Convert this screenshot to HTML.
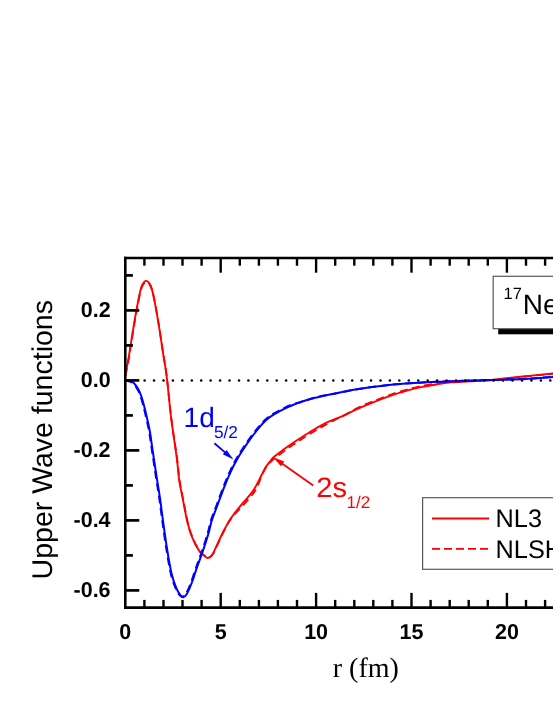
<!DOCTYPE html>
<html><head><meta charset="utf-8"><title>Upper Wave functions</title>
<style>
html,body{margin:0;padding:0;background:#fff;}
body{width:553px;height:715px;overflow:hidden;font-family:"Liberation Sans",sans-serif;}
svg{display:block;will-change:transform;}
text{text-rendering:geometricPrecision;}
</style></head><body>
<svg width="553" height="715" viewBox="0 0 553 715">
<rect width="553" height="715" fill="#fff"/>
<g fill="none" stroke-linejoin="round" stroke-linecap="butt">
<path d="M125.3 375.0 C125.8 372.5 127.2 365.5 128.2 360.0 C129.2 354.5 130.0 349.1 131.1 342.2 C132.2 335.3 133.6 326.2 134.9 318.7 C136.2 311.2 137.8 302.6 138.9 297.2 C140.0 291.8 140.7 288.8 141.6 286.2 C142.5 283.6 143.7 282.6 144.5 281.7 C145.3 280.8 145.7 280.7 146.4 280.9 C147.2 281.1 148.1 281.4 149.0 282.7 C149.9 283.9 150.7 285.5 151.6 288.4 C152.5 291.3 153.3 294.4 154.4 300.1 C155.5 305.8 157.0 314.4 158.4 322.7 C159.8 331.0 161.2 341.0 162.6 350.1 C164.0 359.2 165.4 366.0 166.8 377.5 C168.2 389.0 169.6 405.7 171.3 419.2 C173.0 432.7 175.5 448.2 176.8 458.3 C178.1 468.4 178.2 473.2 179.2 480.0 C180.2 486.8 181.4 491.8 182.8 499.0 C184.2 506.2 186.0 516.5 187.6 523.0 C189.2 529.5 190.6 533.6 192.5 538.2 C194.4 542.9 197.2 548.0 199.2 550.9 C201.2 553.8 203.2 554.7 204.6 555.9 C206.0 557.1 206.5 558.2 207.8 558.0 C209.1 557.8 210.6 556.9 212.2 554.7 C213.8 552.5 215.3 548.5 217.2 544.6 C219.1 540.7 221.2 535.6 223.5 531.2 C225.8 526.8 228.1 522.4 231.1 518.0 C234.1 513.6 237.9 508.9 241.3 504.8 C244.7 500.7 248.9 496.4 251.4 493.2 C253.9 490.0 254.7 488.3 256.3 485.4 C257.9 482.5 259.7 478.7 261.2 475.8 C262.7 472.9 263.8 470.2 265.2 467.9 C266.6 465.6 268.1 464.0 269.5 462.2 C270.9 460.4 271.5 459.1 273.8 457.0 C276.1 454.9 279.8 452.3 283.5 449.6 C287.2 446.9 292.0 443.6 296.2 440.8 C300.4 438.0 304.2 435.5 308.9 432.7 C313.5 429.9 318.9 426.4 324.1 423.8 C329.3 421.2 336.5 418.7 340.0 417.2 C343.5 415.7 341.8 416.4 345.2 414.8 C348.6 413.2 355.3 409.8 360.4 407.6 C365.5 405.4 370.5 403.4 375.6 401.4 C380.7 399.4 385.7 397.5 390.8 395.7 C395.9 393.9 400.9 392.2 406.0 390.8 C411.1 389.4 416.1 388.2 421.1 387.1 C426.2 386.1 431.2 385.3 436.3 384.5 C441.4 383.7 445.9 382.8 451.5 382.3 C457.1 381.8 463.7 381.7 470.0 381.3 C476.3 380.9 480.0 381.0 489.2 380.1 C498.4 379.2 514.7 377.3 525.3 376.2 C535.9 375.1 547.2 374.1 553.0 373.5 C558.8 372.9 558.8 372.9 560.0 372.8" stroke="#ff0000" stroke-width="1.9"/>
<path d="M125.5 375.9 C126.0 373.4 127.4 366.4 128.4 360.9 C129.4 355.4 130.2 350.0 131.3 343.1 C132.4 336.2 133.8 327.1 135.1 319.6 C136.4 312.1 138.0 303.5 139.1 298.1 C140.2 292.7 140.9 289.7 141.8 287.1 C142.7 284.5 143.9 283.5 144.7 282.6 C145.5 281.7 145.8 281.6 146.6 281.8 C147.3 282.0 148.3 282.3 149.2 283.6 C150.1 284.8 150.9 286.4 151.8 289.3 C152.7 292.2 153.5 295.3 154.6 301.0 C155.7 306.7 157.2 315.3 158.6 323.6 C160.0 331.9 161.4 341.9 162.8 351.0 C164.2 360.1 165.6 366.9 167.0 378.4 C168.4 389.9 169.8 406.8 171.5 420.1 C173.2 433.4 175.8 448.4 177.1 458.4 C178.4 468.4 178.5 473.3 179.5 480.1 C180.5 486.9 181.7 491.9 183.1 499.1 C184.5 506.3 186.3 516.6 187.9 523.1 C189.5 529.6 190.9 533.7 192.8 538.3 C194.7 543.0 197.5 548.0 199.5 551.0 C201.5 554.0 203.5 554.8 204.9 556.0 C206.3 557.2 206.8 558.3 208.1 558.1 C209.4 557.9 210.9 557.0 212.5 554.8 C214.1 552.6 215.6 548.6 217.5 544.7 C219.4 540.8 221.5 535.7 223.8 531.3 C226.1 526.9 228.3 522.3 231.4 518.1 C234.5 513.9 238.8 509.9 242.3 506.0 C245.8 502.1 249.9 497.6 252.4 494.4 C254.9 491.2 255.8 489.6 257.3 486.6 C258.8 483.5 260.1 479.2 261.5 476.1 C262.9 473.0 264.1 470.5 265.5 468.2 C266.9 465.9 268.3 464.1 269.8 462.5 C271.3 460.9 272.2 460.2 274.6 458.3 C277.0 456.4 280.6 453.6 284.3 450.9 C288.0 448.2 292.8 444.9 297.0 442.1 C301.2 439.3 305.0 436.8 309.7 434.0 C314.4 431.2 319.9 427.9 324.9 425.1 C330.0 422.3 336.6 418.9 340.0 417.2 C343.4 415.5 341.8 416.6 345.2 414.8 C348.6 413.0 355.3 409.0 360.4 406.6 C365.5 404.2 370.5 402.4 375.6 400.4 C380.7 398.4 385.7 396.5 390.8 394.7 C395.9 392.9 400.9 391.2 406.0 389.8 C411.1 388.4 416.1 387.2 421.1 386.1 C426.2 385.1 431.2 384.3 436.3 383.5 C441.4 382.7 445.9 381.8 451.5 381.3 C457.1 380.8 463.7 380.4 470.0 380.3 C476.3 380.2 480.0 381.0 489.2 380.4 C498.4 379.8 514.7 377.6 525.3 376.5 C535.9 375.4 547.2 374.4 553.0 373.8 C558.8 373.2 558.8 373.2 560.0 373.1" stroke="#ff0000" stroke-width="1.9" stroke-dasharray="8 4.5"/>
<path d="M125.5 380.4 C126.0 380.4 127.3 380.4 128.5 380.7 C129.7 381.0 131.4 381.4 132.7 382.2 C133.9 383.0 134.9 384.2 136.0 385.7 C137.1 387.2 138.2 388.8 139.3 391.2 C140.4 393.6 141.5 396.6 142.5 400.0 C143.5 403.4 144.3 406.5 145.5 411.5 C146.7 416.5 148.5 424.5 149.6 430.0 C150.7 435.5 150.7 437.3 151.8 444.6 C152.9 451.9 154.8 465.2 156.2 474.0 C157.5 482.8 158.8 489.8 159.9 497.5 C161.0 505.2 161.8 511.9 162.9 520.0 C164.0 528.0 165.2 536.8 166.6 545.8 C168.0 554.8 169.9 566.5 171.6 573.7 C173.3 580.9 175.2 585.3 176.7 588.9 C178.2 592.5 179.4 593.8 180.5 595.2 C181.6 596.6 181.9 597.4 183.0 597.2 C184.1 597.0 185.3 596.4 186.8 593.9 C188.3 591.4 190.2 586.9 191.9 582.5 C193.6 578.1 195.2 572.3 197.0 567.3 C198.8 562.2 200.6 557.7 202.5 552.2 C204.4 546.7 206.6 539.7 208.2 534.4 C209.8 529.1 210.4 525.0 211.8 520.4 C213.2 515.8 215.0 511.8 216.8 507.0 C218.6 502.2 220.5 496.7 222.4 491.8 C224.3 486.9 226.1 482.2 228.0 477.8 C229.9 473.4 231.9 469.1 233.6 465.7 C235.3 462.3 236.9 459.7 238.3 457.3 C239.7 454.9 240.2 454.1 242.0 451.3 C243.8 448.6 246.3 444.5 249.0 440.8 C251.7 437.1 255.1 432.5 258.1 428.9 C261.1 425.3 264.1 421.9 267.1 419.3 C270.1 416.7 273.2 414.9 276.2 413.1 C279.2 411.3 282.4 409.7 285.2 408.3 C288.0 406.9 290.4 406.0 292.9 405.0 C295.4 404.0 297.7 403.1 300.1 402.3 C302.5 401.5 304.8 400.8 307.3 400.0 C309.8 399.2 311.8 398.6 315.0 397.8 C318.2 397.0 322.4 396.1 326.6 395.2 C330.8 394.3 335.2 393.5 340.0 392.6 C344.8 391.7 348.5 390.7 355.3 389.6 C362.1 388.5 372.2 387.0 380.6 386.0 C389.1 385.0 397.6 384.2 406.0 383.6 C414.4 383.0 422.9 382.5 431.3 382.1 C439.7 381.7 447.0 381.5 456.6 381.2 C466.2 380.9 477.6 380.5 489.0 380.1 C500.4 379.7 514.3 379.4 525.0 378.9 C535.7 378.4 547.2 377.4 553.0 377.0 C558.8 376.6 558.8 376.6 560.0 376.5" stroke="#0000ff" stroke-width="2.0"/>
<path d="M124.8 380.6 C125.3 380.6 126.6 380.6 127.8 380.9 C129.0 381.2 130.8 381.6 132.0 382.4 C133.2 383.2 134.2 384.4 135.3 385.9 C136.4 387.4 137.5 389.0 138.6 391.4 C139.7 393.8 140.8 396.8 141.8 400.2 C142.8 403.6 143.6 406.7 144.8 411.7 C146.0 416.7 147.8 424.7 148.9 430.2 C150.0 435.7 150.0 437.5 151.1 444.8 C152.2 452.1 154.2 465.4 155.5 474.2 C156.8 483.0 158.1 490.0 159.2 497.7 C160.3 505.4 161.1 512.2 162.2 520.2 C163.3 528.2 164.5 537.0 165.9 546.0 C167.3 555.0 169.2 566.7 170.9 573.9 C172.6 581.1 174.5 585.5 176.0 589.1 C177.5 592.7 178.8 594.1 179.8 595.4 C180.9 596.7 181.2 597.0 182.3 596.7 C183.4 596.4 184.6 595.9 186.1 593.4 C187.6 590.9 189.5 586.4 191.2 582.0 C192.9 577.6 194.5 571.8 196.3 566.8 C198.1 561.8 199.9 557.2 201.8 551.7 C203.7 546.2 205.9 539.2 207.5 533.9 C209.1 528.6 209.7 524.5 211.1 519.9 C212.5 515.3 214.3 511.3 216.1 506.5 C217.9 501.7 219.8 496.2 221.7 491.3 C223.6 486.4 225.4 481.7 227.3 477.3 C229.2 472.9 231.2 468.6 232.9 465.2 C234.6 461.8 236.2 459.2 237.6 456.8 C239.0 454.4 239.5 453.6 241.3 450.8 C243.1 448.1 245.6 444.0 248.3 440.3 C251.0 436.6 254.4 432.0 257.4 428.4 C260.4 424.8 263.4 421.4 266.4 418.8 C269.4 416.2 272.5 414.4 275.5 412.6 C278.5 410.8 281.7 409.2 284.5 407.8 C287.3 406.4 289.6 405.4 292.2 404.5 C294.8 403.6 297.6 402.9 300.1 402.2 C302.6 401.4 304.8 400.6 307.3 399.9 C309.8 399.1 311.8 398.5 315.0 397.7 C318.2 396.9 322.4 395.9 326.6 395.1 C330.8 394.2 335.2 393.4 340.0 392.5 C344.8 391.5 348.5 390.6 355.3 389.5 C362.1 388.4 372.2 386.9 380.6 385.9 C389.1 384.9 397.6 384.1 406.0 383.5 C414.4 382.8 422.9 382.4 431.3 382.0 C439.7 381.6 447.0 381.4 456.6 381.1 C466.2 380.7 477.6 380.3 489.0 380.0 C500.4 379.6 514.3 379.3 525.0 378.8 C535.7 378.2 547.2 377.2 553.0 376.9 C558.8 376.5 558.8 376.4 560.0 376.4" stroke="#0000ff" stroke-width="2.0" stroke-dasharray="8 4.5"/>
</g>
<g fill="#000">
<circle cx="144.6" cy="380.5" r="1.25"/>
<circle cx="154.0" cy="380.5" r="1.25"/>
<circle cx="163.5" cy="380.5" r="1.25"/>
<circle cx="172.9" cy="380.5" r="1.25"/>
<circle cx="182.3" cy="380.5" r="1.25"/>
<circle cx="191.8" cy="380.5" r="1.25"/>
<circle cx="201.2" cy="380.5" r="1.25"/>
<circle cx="210.6" cy="380.5" r="1.25"/>
<circle cx="220.1" cy="380.5" r="1.25"/>
<circle cx="229.5" cy="380.5" r="1.25"/>
<circle cx="239.0" cy="380.5" r="1.25"/>
<circle cx="248.4" cy="380.5" r="1.25"/>
<circle cx="257.8" cy="380.5" r="1.25"/>
<circle cx="267.3" cy="380.5" r="1.25"/>
<circle cx="276.7" cy="380.5" r="1.25"/>
<circle cx="286.1" cy="380.5" r="1.25"/>
<circle cx="295.6" cy="380.5" r="1.25"/>
<circle cx="305.0" cy="380.5" r="1.25"/>
<circle cx="314.4" cy="380.5" r="1.25"/>
<circle cx="323.9" cy="380.5" r="1.25"/>
<circle cx="333.3" cy="380.5" r="1.25"/>
<circle cx="342.7" cy="380.5" r="1.25"/>
<circle cx="352.2" cy="380.5" r="1.25"/>
<circle cx="361.6" cy="380.5" r="1.25"/>
<circle cx="371.0" cy="380.5" r="1.25"/>
<circle cx="380.5" cy="380.5" r="1.25"/>
<circle cx="389.9" cy="380.5" r="1.25"/>
<circle cx="399.3" cy="380.5" r="1.25"/>
<circle cx="408.8" cy="380.5" r="1.25"/>
<circle cx="418.2" cy="380.5" r="1.25"/>
<circle cx="427.7" cy="380.5" r="1.25"/>
<circle cx="437.1" cy="380.5" r="1.25"/>
<circle cx="446.5" cy="380.5" r="1.25"/>
<circle cx="456.0" cy="380.5" r="1.25"/>
<circle cx="465.4" cy="380.5" r="1.25"/>
<circle cx="474.8" cy="380.5" r="1.25"/>
<circle cx="484.3" cy="380.5" r="1.25"/>
<circle cx="493.7" cy="380.5" r="1.25"/>
<circle cx="503.1" cy="380.5" r="1.25"/>
<circle cx="512.6" cy="380.5" r="1.25"/>
<circle cx="522.0" cy="380.5" r="1.25"/>
<circle cx="531.4" cy="380.5" r="1.25"/>
<circle cx="540.9" cy="380.5" r="1.25"/>
<circle cx="550.3" cy="380.5" r="1.25"/>
<circle cx="559.7" cy="380.5" r="1.25"/>
</g>
<g stroke="#000" fill="none">
<line x1="125.3" y1="256.7" x2="125.3" y2="608.9" stroke-width="2.6"/>
<line x1="124.0" y1="258.0" x2="560" y2="258.0" stroke-width="2.6"/>
<line x1="124.0" y1="607.6" x2="560" y2="607.6" stroke-width="2.6"/>
<line x1="144.4" y1="258.0" x2="144.4" y2="265.7" stroke-width="2.4"/>
<line x1="144.4" y1="607.6" x2="144.4" y2="599.9" stroke-width="2.4"/>
<line x1="163.5" y1="258.0" x2="163.5" y2="265.7" stroke-width="2.4"/>
<line x1="163.5" y1="607.6" x2="163.5" y2="599.9" stroke-width="2.4"/>
<line x1="182.5" y1="258.0" x2="182.5" y2="265.7" stroke-width="2.4"/>
<line x1="182.5" y1="607.6" x2="182.5" y2="599.9" stroke-width="2.4"/>
<line x1="201.6" y1="258.0" x2="201.6" y2="265.7" stroke-width="2.4"/>
<line x1="201.6" y1="607.6" x2="201.6" y2="599.9" stroke-width="2.4"/>
<line x1="220.7" y1="258.0" x2="220.7" y2="272.7" stroke-width="2.4"/>
<line x1="220.7" y1="607.6" x2="220.7" y2="592.9" stroke-width="2.4"/>
<line x1="239.8" y1="258.0" x2="239.8" y2="265.7" stroke-width="2.4"/>
<line x1="239.8" y1="607.6" x2="239.8" y2="599.9" stroke-width="2.4"/>
<line x1="258.9" y1="258.0" x2="258.9" y2="265.7" stroke-width="2.4"/>
<line x1="258.9" y1="607.6" x2="258.9" y2="599.9" stroke-width="2.4"/>
<line x1="277.9" y1="258.0" x2="277.9" y2="265.7" stroke-width="2.4"/>
<line x1="277.9" y1="607.6" x2="277.9" y2="599.9" stroke-width="2.4"/>
<line x1="297.0" y1="258.0" x2="297.0" y2="265.7" stroke-width="2.4"/>
<line x1="297.0" y1="607.6" x2="297.0" y2="599.9" stroke-width="2.4"/>
<line x1="316.1" y1="258.0" x2="316.1" y2="272.7" stroke-width="2.4"/>
<line x1="316.1" y1="607.6" x2="316.1" y2="592.9" stroke-width="2.4"/>
<line x1="335.2" y1="258.0" x2="335.2" y2="265.7" stroke-width="2.4"/>
<line x1="335.2" y1="607.6" x2="335.2" y2="599.9" stroke-width="2.4"/>
<line x1="354.3" y1="258.0" x2="354.3" y2="265.7" stroke-width="2.4"/>
<line x1="354.3" y1="607.6" x2="354.3" y2="599.9" stroke-width="2.4"/>
<line x1="373.3" y1="258.0" x2="373.3" y2="265.7" stroke-width="2.4"/>
<line x1="373.3" y1="607.6" x2="373.3" y2="599.9" stroke-width="2.4"/>
<line x1="392.4" y1="258.0" x2="392.4" y2="265.7" stroke-width="2.4"/>
<line x1="392.4" y1="607.6" x2="392.4" y2="599.9" stroke-width="2.4"/>
<line x1="411.5" y1="258.0" x2="411.5" y2="272.7" stroke-width="2.4"/>
<line x1="411.5" y1="607.6" x2="411.5" y2="592.9" stroke-width="2.4"/>
<line x1="430.6" y1="258.0" x2="430.6" y2="265.7" stroke-width="2.4"/>
<line x1="430.6" y1="607.6" x2="430.6" y2="599.9" stroke-width="2.4"/>
<line x1="449.7" y1="258.0" x2="449.7" y2="265.7" stroke-width="2.4"/>
<line x1="449.7" y1="607.6" x2="449.7" y2="599.9" stroke-width="2.4"/>
<line x1="468.7" y1="258.0" x2="468.7" y2="265.7" stroke-width="2.4"/>
<line x1="468.7" y1="607.6" x2="468.7" y2="599.9" stroke-width="2.4"/>
<line x1="487.8" y1="258.0" x2="487.8" y2="265.7" stroke-width="2.4"/>
<line x1="487.8" y1="607.6" x2="487.8" y2="599.9" stroke-width="2.4"/>
<line x1="506.9" y1="258.0" x2="506.9" y2="272.7" stroke-width="2.4"/>
<line x1="506.9" y1="607.6" x2="506.9" y2="592.9" stroke-width="2.4"/>
<line x1="526.0" y1="258.0" x2="526.0" y2="265.7" stroke-width="2.4"/>
<line x1="526.0" y1="607.6" x2="526.0" y2="599.9" stroke-width="2.4"/>
<line x1="545.1" y1="258.0" x2="545.1" y2="265.7" stroke-width="2.4"/>
<line x1="545.1" y1="607.6" x2="545.1" y2="599.9" stroke-width="2.4"/>
<line x1="564.1" y1="258.0" x2="564.1" y2="265.7" stroke-width="2.4"/>
<line x1="564.1" y1="607.6" x2="564.1" y2="599.9" stroke-width="2.4"/>
<line x1="125.3" y1="590.4" x2="139.3" y2="590.4" stroke-width="2.7"/>
<line x1="125.3" y1="555.4" x2="132.9" y2="555.4" stroke-width="2.7"/>
<line x1="125.3" y1="520.4" x2="139.3" y2="520.4" stroke-width="2.7"/>
<line x1="125.3" y1="485.4" x2="132.9" y2="485.4" stroke-width="2.7"/>
<line x1="125.3" y1="450.4" x2="139.3" y2="450.4" stroke-width="2.7"/>
<line x1="125.3" y1="415.4" x2="132.9" y2="415.4" stroke-width="2.7"/>
<line x1="125.3" y1="380.4" x2="139.3" y2="380.4" stroke-width="2.7"/>
<line x1="125.3" y1="345.4" x2="132.9" y2="345.4" stroke-width="2.7"/>
<line x1="125.3" y1="310.4" x2="139.3" y2="310.4" stroke-width="2.7"/>
<line x1="125.3" y1="275.4" x2="132.9" y2="275.4" stroke-width="2.7"/>
</g>
<g font-family="Liberation Sans, sans-serif" font-weight="bold" font-size="21.5" fill="#000">
<text x="110.6" y="316.7" text-anchor="end">0.2</text>
<text x="110.6" y="386.7" text-anchor="end">0.0</text>
<text x="110.6" y="456.7" text-anchor="end">-0.2</text>
<text x="110.6" y="526.7" text-anchor="end">-0.4</text>
<text x="110.6" y="596.7" text-anchor="end">-0.6</text>
<text x="125.3" y="639.2" text-anchor="middle">0</text>
<text x="220.7" y="639.2" text-anchor="middle">5</text>
<text x="316.1" y="639.2" text-anchor="middle">10</text>
<text x="411.5" y="639.2" text-anchor="middle">15</text>
<text x="506.9" y="639.2" text-anchor="middle">20</text>
</g>
<text font-family="Liberation Serif, serif" font-size="28" x="332.8" y="676.8" fill="#000">r (fm)</text>
<text font-family="Liberation Sans, sans-serif" font-size="28.5" fill="#000" transform="translate(52.2,579.4) rotate(-90)">Upper Wave functions</text>
<g font-family="Liberation Sans, sans-serif">
<text x="183.6" y="426.8" font-size="28" fill="#0000ff">1d<tspan font-size="17.3" dy="11.3" dx="-0.8">5/2</tspan></text>
<text transform="translate(316.2,496.8) scale(1.04,1)" font-size="28" fill="#ff0000">2s</text><text x="346.6" y="508" font-size="17" fill="#ff0000">1/2</text>
</g>
<line x1="214.4" y1="443.2" x2="226.2" y2="453.4" stroke="#0000ff" stroke-width="1.8"/><polygon points="233.4,459.6 222.8,454.3 226.6,449.9" fill="#0000ff"/>
<line x1="313.2" y1="485.6" x2="280.9" y2="462.7" stroke="#ff0000" stroke-width="1.8"/><polygon points="273.2,457.2 284.3,461.5 280.9,466.2" fill="#ff0000"/>
<rect x="498.2" y="329" width="70" height="5.3" fill="#000"/>
<rect x="493.2" y="276.3" width="80" height="52.4" fill="#fff" stroke="#585858" stroke-width="1.2"/>
<text font-family="Liberation Sans, sans-serif" x="503.5" y="314.2" font-size="28" fill="#000"><tspan font-size="16.5" dy="-14.8">17</tspan><tspan dy="14.8" dx="1">Ne</tspan></text>
<rect x="422.6" y="497.7" width="150" height="71.6" fill="#fff" stroke="#585858" stroke-width="1.2"/>
<line x1="432" y1="518.5" x2="489" y2="518.5" stroke="#ff0000" stroke-width="1.9"/>
<line x1="432" y1="548.9" x2="489" y2="548.9" stroke="#ff0000" stroke-width="1.9" stroke-dasharray="8 4"/>
<g font-family="Liberation Sans, sans-serif" font-size="25.3" fill="#000">
<text x="495.6" y="527.1">NL3</text>
<text x="495.6" y="558.3">NLSH</text>
</g>
</svg>
</body></html>
